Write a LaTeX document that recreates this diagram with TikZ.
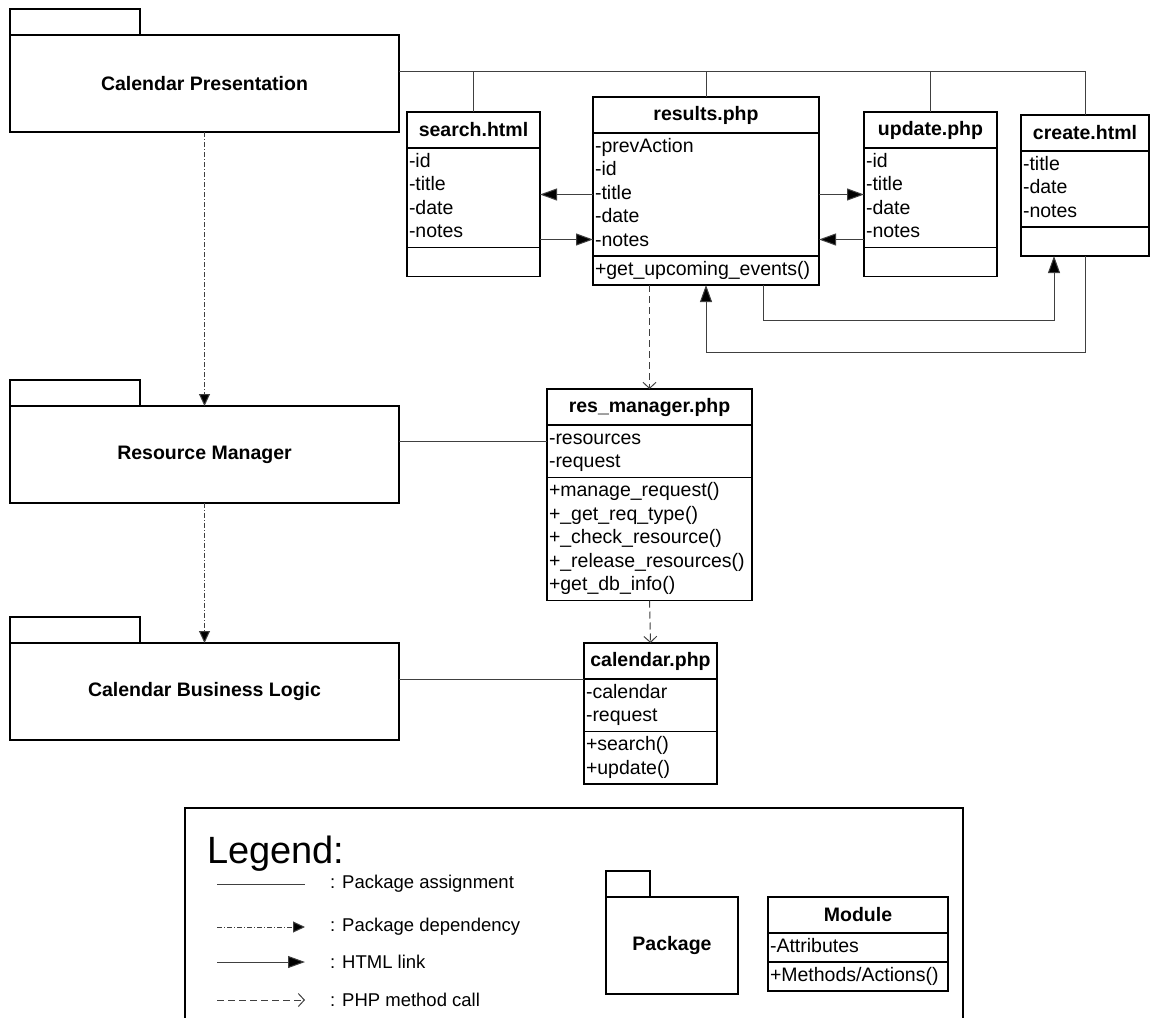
\documentclass[tikz,border=0pt]{standalone}
\usepackage{fontspec}
\setmainfont{Liberation Sans}
\usetikzlibrary{positioning,arrows.meta}
\newcommand{\umlfont}{\fontsize{19.5}{23.5}\selectfont}
\newcommand{\legfont}{\fontsize{18.5}{22}\selectfont}

\begin{document}
\begin{tikzpicture}[x=1pt, y=-1pt, node distance=0pt,
        box/.style={draw, line width=1.8pt, outer sep=0pt},
        pkg/.style={box, minimum width=389pt, minimum height=97pt, font=\umlfont\bfseries},
        pkgtab/.style={box, minimum width=130pt, minimum height=26pt, anchor=south west},
        classhead/.style={box, minimum height=36pt, anchor=north west, inner sep=0pt, font=\umlfont\bfseries},
        classpart/.style={box, align=left, inner xsep=2pt, inner ysep=2.75pt, font=\umlfont,
            execute at begin node=\strut, execute at end node=\strut},
        legitem/.style={anchor=west, inner sep=0pt, font=\legfont},
        assign/.style={line width=1pt, draw=black!75},
        depend/.style={line width=1pt, draw=black!75, dash pattern=on 5pt off 2pt on 1pt off 2pt, -{Triangle[length=12pt,width=11pt,fill=black]}},
        link/.style={line width=1pt, draw=black!75, -{Triangle[length=17pt,width=12pt,fill=black]}},
        phpcall/.style={line width=1pt, draw=black!75, dash pattern=on 7pt off 4pt, -{Straight Barb[length=6pt,width=13pt]}}]
        \useasboundingbox (0,0) rectangle (1150,1017);
        % Packages
        \node[pkg] (calpres) at (204.5,83.5) {Calendar Presentation};
        \node[pkgtab] (calpres-tab) at (calpres.north west) {};
        \node[pkg] (resman) at (204.5,454.5) {Resource Manager};
        \node[pkgtab] (resman-tab) at (resman.north west) {};
        \node[pkg] (business) at (204.5,691.5) {Calendar Business Logic};
        \node[pkgtab] (business-tab) at (business.north west) {};
        % Modules of the presentation
        \node[classhead, minimum width=133pt] (search-h) at (407,112) {search.html};
        \node[classpart, text width=129pt, below=of search-h] (search-a) {-id\\-title\\-date\\-notes};
        \node[classpart, text width=129pt, below=of search-a] (search-m) {};
        \node[classhead, minimum width=226pt] (results-h) at (593,97) {results.php};
        \node[classpart, text width=222pt, below=of results-h] (results-a) {-prevAction\\-id\\-title\\-date\\-notes};
        \node[classpart, text width=222pt, below=of results-a] (results-m) {+get\_upcoming\_events()};
        \node[classhead, minimum width=133pt] (update-h) at (864,112) {update.php};
        \node[classpart, text width=129pt, below=of update-h] (update-a) {-id\\-title\\-date\\-notes};
        \node[classpart, text width=129pt, below=of update-a] (update-m) {};
        \node[classhead, minimum width=128pt] (create-h) at (1021,115) {create.html};
        \node[classpart, text width=124pt, below=of create-h] (create-a) {-title\\-date\\-notes};
        \node[classpart, text width=124pt, below=of create-a] (create-m) {};
        % Modules of the other packages
        \node[classhead, minimum width=205pt] (resmgr-h) at (547,389) {res\_manager.php};
        \node[classpart, text width=201pt, below=of resmgr-h] (resmgr-a) {-resources\\-request};
        \node[classpart, text width=201pt, below=of resmgr-a] (resmgr-m) {+manage\_request()\\+\_get\_req\_type()\\+\_check\_resource()\\+\_release\_resources()\\+get\_db\_info()};
        \node[classhead, minimum width=133pt] (calphp-h) at (584,643) {calendar.php};
        \node[classpart, text width=129pt, below=of calphp-h] (calphp-a) {-calendar\\-request};
        \node[classpart, text width=129pt, below=of calphp-a] (calphp-m) {+search()\\+update()};
        % Package assignment
        \coordinate (bus) at ([yshift=12.5pt]calpres.east);
        \draw[assign] (bus) -| (create-h.north);
        \draw[assign] (search-h.north) -- (search-h.north |- bus);
        \draw[assign] (results-h.north) -- (results-h.north |- bus);
        \draw[assign] (update-h.north) -- (update-h.north |- bus);
        \coordinate (resman-out) at ([yshift=13.5pt]resman.east);
        \draw[assign] (resman-out) -- (resman-out -| resmgr-a.west);
        \draw[assign] (business.east |- calphp-h.south) -- (calphp-h.south west);
        % Package dependency
        \draw[depend] (calpres.south) -- (resman.north);
        \draw[depend] (resman.south) -- (business.north);
        % HTML links
        \draw[link] (results-a.west) -- (results-a.west -| search-a.east);
        \coordinate (results-in) at ([yshift=-45pt]results-a.west);
        \draw[link] (results-in -| search-a.east) -- (results-in);
        \draw[link] (results-a.east) -- (results-a.east -| update-a.west);
        \coordinate (results-back) at ([yshift=-45pt]results-a.east);
        \draw[link] (results-back -| update-a.west) -- (results-back);
        \draw[link] ([xshift=57pt]results-m.south) -- ++(0,35) -| ([xshift=-31pt]create-m.south);
        \draw[link] (create-m.south) -- ++(0,96) -| (results-m.south);
        % PHP method calls
        \draw[phpcall] (resmgr-h.north |- results-m.south) -- (resmgr-h.north);
        \draw[phpcall] (resmgr-m.south) -- (calphp-h.north);
        % Legend
        \draw[line width=2.6pt] (185,1022) -- (185,808) -- (963,808) -- (963,1022);
        \node[anchor=base west, inner sep=0pt, font=\fontsize{38}{44}\selectfont] (legend) at (207,863) {Legend:};
        \node[legitem] (leg-assign) at (330,884) {: Package assignment};
        \node[legitem] (leg-depend) at (330,927) {: Package dependency};
        \node[legitem] (leg-link) at (330,962) {: HTML link};
        \node[legitem] (leg-php) at (330,1000) {: PHP method call};
        \draw[assign] ([xshift=-113pt]leg-assign.west) -- ([xshift=-25pt]leg-assign.west);
        \draw[depend] ([xshift=-113pt]leg-depend.west) -- ([xshift=-25pt]leg-depend.west);
        \draw[link] ([xshift=-113pt]leg-link.west) -- ([xshift=-25pt]leg-link.west);
        \draw[phpcall] ([xshift=-113pt]leg-php.west) -- ([xshift=-25pt]leg-php.west);
        \node[pkg, minimum width=132pt] (leg-pkg) at (672,945.5) {Package};
        \node[pkgtab, minimum width=44pt] (leg-pkg-tab) at (leg-pkg.north west) {};
        \node[classhead, minimum width=180pt] (leg-mod-h) at (768,897) {Module};
        \node[classpart, text width=176pt, below=of leg-mod-h] (leg-mod-a) {-Attributes};
        \node[classpart, text width=176pt, below=of leg-mod-a] (leg-mod-m) {+Methods/Actions()};
\end{tikzpicture}
\end{document}
